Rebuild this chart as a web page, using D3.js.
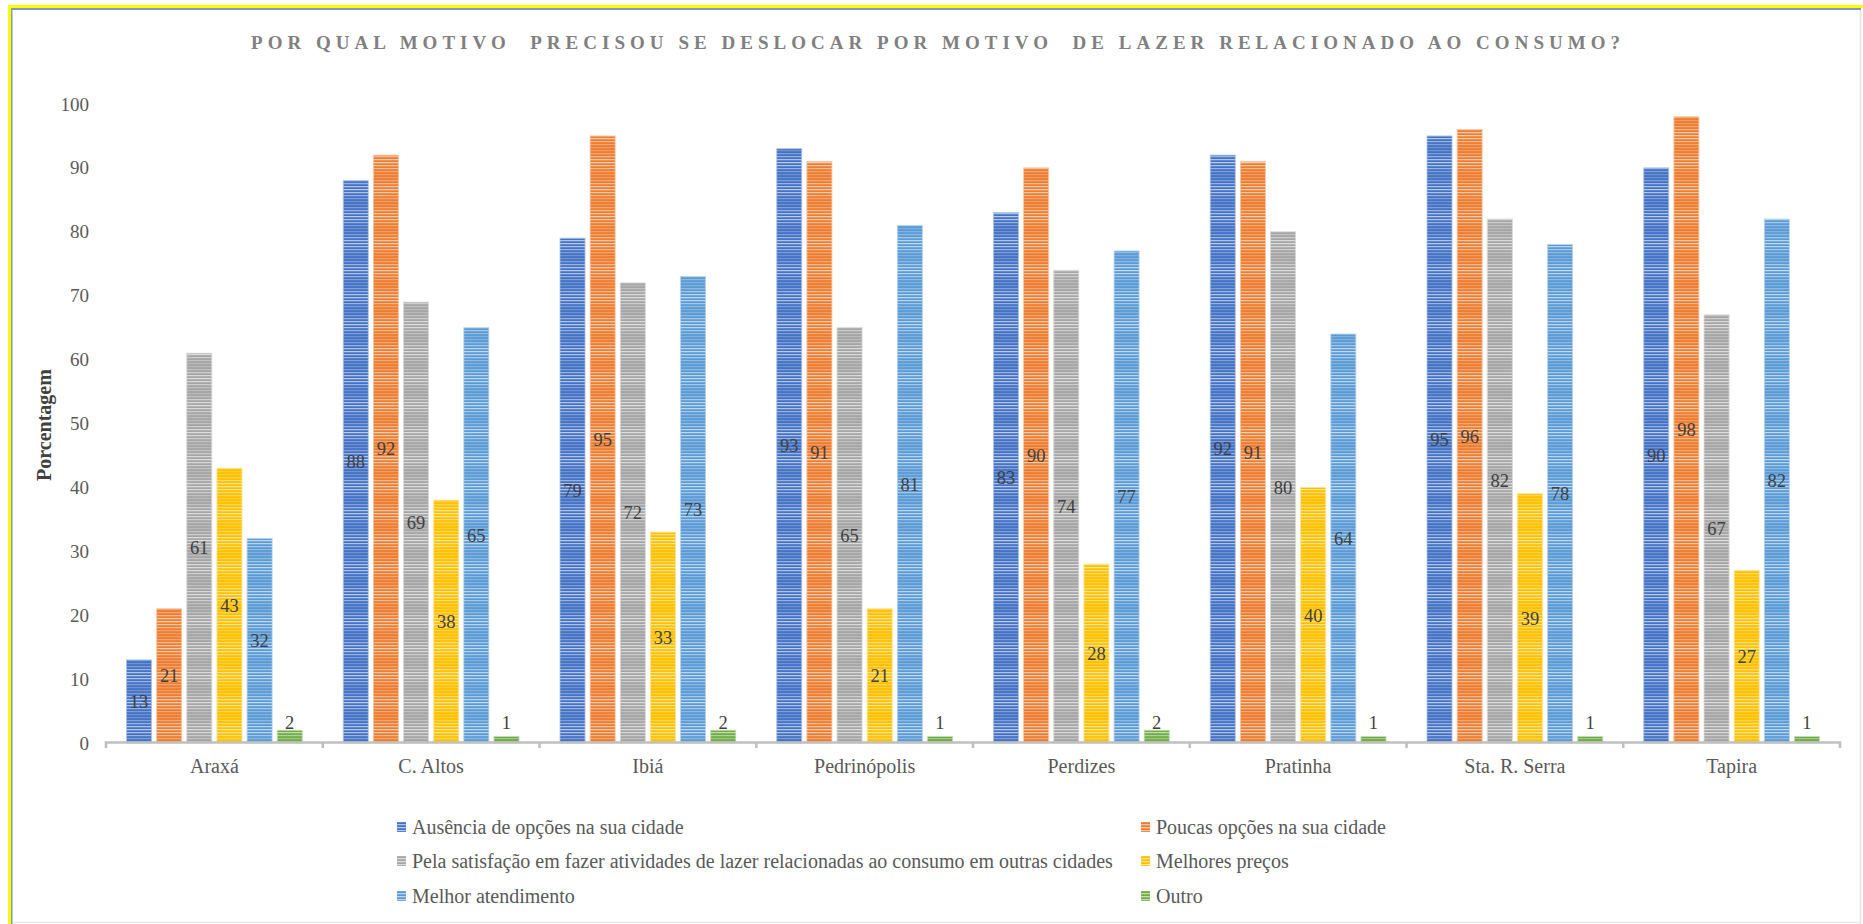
<!DOCTYPE html>
<html><head><meta charset="utf-8">
<script src="https://cdn.jsdelivr.net/npm/d3@7"></script>
<style>html,body{margin:0;padding:0;background:#fff;} svg{display:block;font-family:"Liberation Serif","Times New Roman",serif;}</style>
</head><body><svg id="chart"></svg>
<script>
const categories = ["Araxá","C. Altos","Ibiá","Pedrinópolis","Perdizes","Pratinha","Sta. R. Serra","Tapira"];
const seriesNames = ["Ausência de opções na sua cidade","Poucas opções na sua cidade","Pela satisfação em fazer atividades de lazer relacionadas ao consumo em outras cidades","Melhores preços","Melhor atendimento","Outro"];
const ausencia    = [13,88,79,93,83,92,95,90];
const poucas      = [21,92,95,91,90,91,96,98];
const satisfacao  = [61,69,72,65,74,80,82,67];
const precos      = [43,38,33,21,28,40,39,27];
const atendimento = [32,65,73,81,77,64,78,82];
const outro       = [2,1,2,1,2,1,1,1];
const yTicks = [0,10,20,30,40,50,60,70,80,90,100];
const seriesColors = ["#4472C4","#ED7D31","#A5A5A5","#FFC000","#5B9BD5","#70AD47"];
const chartTitle = "POR QUAL MOTIVO  PRECISOU SE DESLOCAR POR MOTIVO  DE LAZER RELACIONADO AO CONSUMO?";
const yTitle = "Porcentagem";

const seriesValues = [ausencia, poucas, satisfacao, precos, atendimento, outro];
const W = 1863, H = 924;
const svg = d3.select("#chart").attr("width", W).attr("height", H);

// frame
svg.append("rect").attr("x",0).attr("y",0).attr("width",W).attr("height",H).attr("fill","#fff");
svg.append("line").attr("x1",1860.5).attr("x2",1860.5).attr("y1",10).attr("y2",924).attr("stroke","#e3e3e3").attr("stroke-width",1.5);
svg.append("line").attr("x1",11).attr("x2",1861).attr("y1",922.5).attr("y2",922.5).attr("stroke","#e8e8e8").attr("stroke-width",1.5);
svg.append("line").attr("x1",11).attr("x2",1861).attr("y1",9).attr("y2",9).attr("stroke","#7f9cc0").attr("stroke-width",2);
svg.append("line").attr("x1",11.5).attr("x2",11.5).attr("y1",8).attr("y2",924).attr("stroke","#7f9cc0").attr("stroke-width",2);
svg.append("line").attr("x1",8).attr("x2",W).attr("y1",6.5).attr("y2",6.5).attr("stroke","#ffff00").attr("stroke-width",3);
svg.append("line").attr("x1",9.5).attr("x2",9.5).attr("y1",5).attr("y2",H).attr("stroke","#ffff00").attr("stroke-width",3);

// patterns
const defs = svg.append("defs");
seriesColors.forEach((c, i) => {
  const p = defs.append("pattern").attr("id","pat"+i).attr("patternUnits","userSpaceOnUse")
    .attr("width",10).attr("height",27);
  for (let r = 0; r < 27; r++) {
    const mod = 0.5 + 0.5*Math.cos(2*Math.PI*r/27);
    let t = (r%3===0) ? 0.22 + 0.4*mod : (r%3===1 ? 0.04 + 0.12*mod : 0);
    p.append("rect").attr("x",0).attr("y",r).attr("width",10).attr("height",1)
      .attr("fill", d3.interpolateRgb(c, "#ffffff")(t));
  }
});

const x0 = d3.scaleBand().domain(categories).range([106, 1840]).padding(0);
const x1 = d3.scaleBand().domain(seriesNames).range([20.5, x0.bandwidth()-20.5]).paddingInner(0.17).paddingOuter(0);
const y = d3.scaleLinear().domain([0, 100]).range([743, 104]);

// bars
const groups = svg.append("g").selectAll("g").data(categories).join("g")
  .attr("transform", d => `translate(${x0(d)},0)`);
groups.each(function(cat, ci) {
  const g = d3.select(this);
  seriesNames.forEach((s, si) => {
    const v = seriesValues[si][ci];
    g.append("rect").attr("x", x1(s)).attr("y", y(v)).attr("width", x1.bandwidth()).attr("height", y(0)-y(v))
      .attr("fill", `url(#pat${si})`)
      .attr("stroke", d3.interpolateRgb(seriesColors[si], "#fff")(0.55)).attr("stroke-width",0.8);
  });
});

// axis line
const axisG = svg.append("g");
axisG.append("path")
  .attr("d", `M${x0.range()[0]},748V742.5H${x0.range()[1]}V748`)
  .attr("fill","none").attr("stroke","#c0c0c0").attr("stroke-width",2.6);
categories.slice(1).forEach(c => {
  axisG.append("line").attr("x1",x0(c)).attr("x2",x0(c)).attr("y1",742.5).attr("y2",748)
    .attr("stroke","#c0c0c0").attr("stroke-width",2.6);
});
// category labels
svg.append("g").selectAll("text").data(categories).join("text")
  .attr("x", d => x0(d) + x0.bandwidth()/2).attr("y", 772.5)
  .attr("text-anchor","middle").attr("font-size",20).attr("fill","#595959").text(d => d);

// y tick labels
svg.append("g").selectAll("text").data(yTicks).join("text")
  .attr("x", 89).attr("y", d => y(d) + 6.5)
  .attr("text-anchor","end").attr("font-size",19).attr("fill","#595959").text(d => d);

// data labels
groups.each(function(cat, ci) {
  const g = d3.select(this);
  seriesNames.forEach((s, si) => {
    const v = seriesValues[si][ci];
    const inside = si < 5;
    const ty = inside ? (y(v) + y(0))/2 + 6.3 : y(0) - 14;
    g.append("text").attr("x", x1(s) + x1.bandwidth()/2).attr("y", ty)
      .attr("text-anchor","middle").attr("font-size",18.5).attr("fill","#404040").text(v);
  });
});

// title
svg.append("text").attr("x", 251).attr("y", 48.5)
  .attr("textLength", 1369).attr("lengthAdjust","spacing")
  .attr("font-size",19).attr("font-weight","bold").attr("fill","#808080")
  .style("white-space","pre").text(chartTitle);

// y title
svg.append("text").attr("transform","translate(44,425) rotate(-90)")
  .attr("text-anchor","middle").attr("dominant-baseline","central")
  .attr("font-size",20).attr("font-weight","bold").attr("fill","#404040").text(yTitle);

// legend
const legX = [397, 1141], legY = [827, 861, 896];
const leg = svg.append("g").selectAll("g").data(seriesNames).join("g")
  .attr("transform", (d,i) => `translate(${legX[i%2]},${legY[Math.floor(i/2)]})`);
leg.append("rect").attr("x",0).attr("y",-5).attr("width",9).attr("height",10)
  .attr("fill",(d,i)=>`url(#pat${i})`);
leg.append("text").attr("x",15).attr("y",6.5).attr("font-size",20).attr("fill","#595959").text(d=>d);
</script></body></html>
